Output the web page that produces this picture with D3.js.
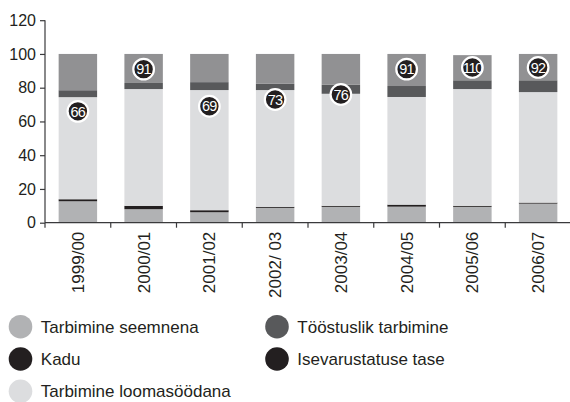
<!DOCTYPE html>
<html><head><meta charset="utf-8">
<script src="https://cdn.jsdelivr.net/npm/d3@7"></script>
<style>body{margin:0;background:#fff}svg{display:block;font-family:"Liberation Sans",Arial,sans-serif}</style>
</head><body><svg id="c" width="570" height="402"></svg>
<script>
const categories = ["1999/00","2000/01","2001/02","2002/ 03","2003/04","2004/05","2005/06","2006/07"];
const seed   = [12.7, 8.0, 6.2, 8.8, 9.4, 9.5, 9.4, 11.3];
const loss   = [1.2, 2.0, 1.2, 0.6, 0.6, 1.2, 0.6, 0.6];
const feed   = [60.5, 69.2, 71.2, 69.2, 66.4, 63.8, 69.2, 65.5];
const industry = [4.1, 3.6, 4.7, 3.7, 5.3, 6.5, 5.2, 7.0];
const other  = [21.5, 17.2, 16.7, 17.7, 18.3, 19.0, 14.9, 15.6];
const selfSufficiency = [66, 91, 69, 73, 76, 91, 110, 92];
const yTicks = [0, 20, 40, 60, 80, 100, 120];
const legendItems = [
  {label:"Tarbimine seemnena", key:"seed"},
  {label:"Tööstuslik tarbimine", key:"industry"},
  {label:"Kadu", key:"loss"},
  {label:"Isevarustatuse tase", key:"self"},
  {label:"Tarbimine loomasöödana", key:"feed"}
];

const colors = {seed:"#b1b2b4", loss:"#231f20", feed:"#dcdddf", industry:"#58595b", other:"#919193", self:"#231f20"};
const keys = ["seed","loss","feed","industry","other"];
const series = {seed, loss, feed, industry, other};
const rows = categories.map((c,i)=>{const r={cat:c}; keys.forEach(k=>r[k]=series[k][i]); return r;});
const stacked = d3.stack().keys(keys)(rows);

const svg = d3.select("#c");
const x = d3.scaleBand().domain(categories).range([45, 571]).paddingInner(0.415).paddingOuter(0.2075);
const y = d3.scaleLinear().domain([0, 120]).range([222.7, 20.2]);
const axisColor = "#3a3a3c";

// bars
svg.append("g").selectAll("g").data(stacked).join("g")
  .attr("fill", d=>colors[d.key])
  .selectAll("rect").data(d=>d).join("rect")
  .attr("x", d=>x(d.data.cat))
  .attr("width", x.bandwidth())
  .attr("y", d=>y(d[1]))
  .attr("height", d=>y(d[0])-y(d[1]));

// y axis
const ya = svg.append("g").attr("transform","translate(45,0)")
  .call(d3.axisLeft(y).tickValues(yTicks).tickSize(5).tickPadding(4));
ya.select(".domain").attr("stroke", axisColor).attr("stroke-width",1.2).attr("d","M0,20.2V222.7");
ya.selectAll(".tick line").attr("stroke", axisColor).attr("stroke-width",1.2);
ya.selectAll(".tick text").attr("font-size",16).attr("fill","#231f20").attr("font-family","Liberation Sans, Arial, sans-serif");

// x axis with ticks at band boundaries
const step = x.step();
const xb = svg.append("g");
xb.append("line").attr("x1",45).attr("x2",570).attr("y1",y(0)).attr("y2",y(0)).attr("stroke",axisColor).attr("stroke-width",1.2);
xb.selectAll("line.t").data(d3.range(categories.length)).join("line").attr("class","t")
  .attr("x1",i=>45+i*step).attr("x2",i=>45+i*step).attr("y1",y(0)).attr("y2",y(0)+5)
  .attr("stroke",axisColor).attr("stroke-width",1.2);
xb.selectAll("text").data(categories).join("text")
  .attr("transform", d=>`translate(${x(d)+x.bandwidth()/2+6},${y(0)+9}) rotate(-90)`)
  .attr("text-anchor","end").attr("font-size",17).attr("fill","#231f20").text(d=>d);

// bubbles
const bub = svg.append("g").selectAll("g").data(selfSufficiency).join("g")
  .attr("transform",(d,i)=>`translate(${x(categories[i])+x.bandwidth()/2},${y(Math.min(d,92))})`);
bub.append("circle").attr("r",10.3).attr("fill",colors.self).attr("stroke","#fff").attr("stroke-width",2.2);
bub.append("text").attr("text-anchor","middle").attr("dy","0.36em").attr("font-size",14.5)
  .attr("letter-spacing",d=>d>=100?-1.3:-0.6).attr("fill","#fff").text(d=>d);

// legend
const lg = svg.append("g").selectAll("g").data(legendItems).join("g")
  .attr("transform",(d,i)=>`translate(${i%2?277:20.5},${326.7+Math.floor(i/2)*32.3})`);
lg.append("circle").attr("r",11.8).attr("fill",d=>colors[d.key]);
lg.append("text").attr("x",20.3).attr("dy","0.35em").attr("font-size",17).attr("fill","#231f20").text(d=>d.label);
</script></body></html>
